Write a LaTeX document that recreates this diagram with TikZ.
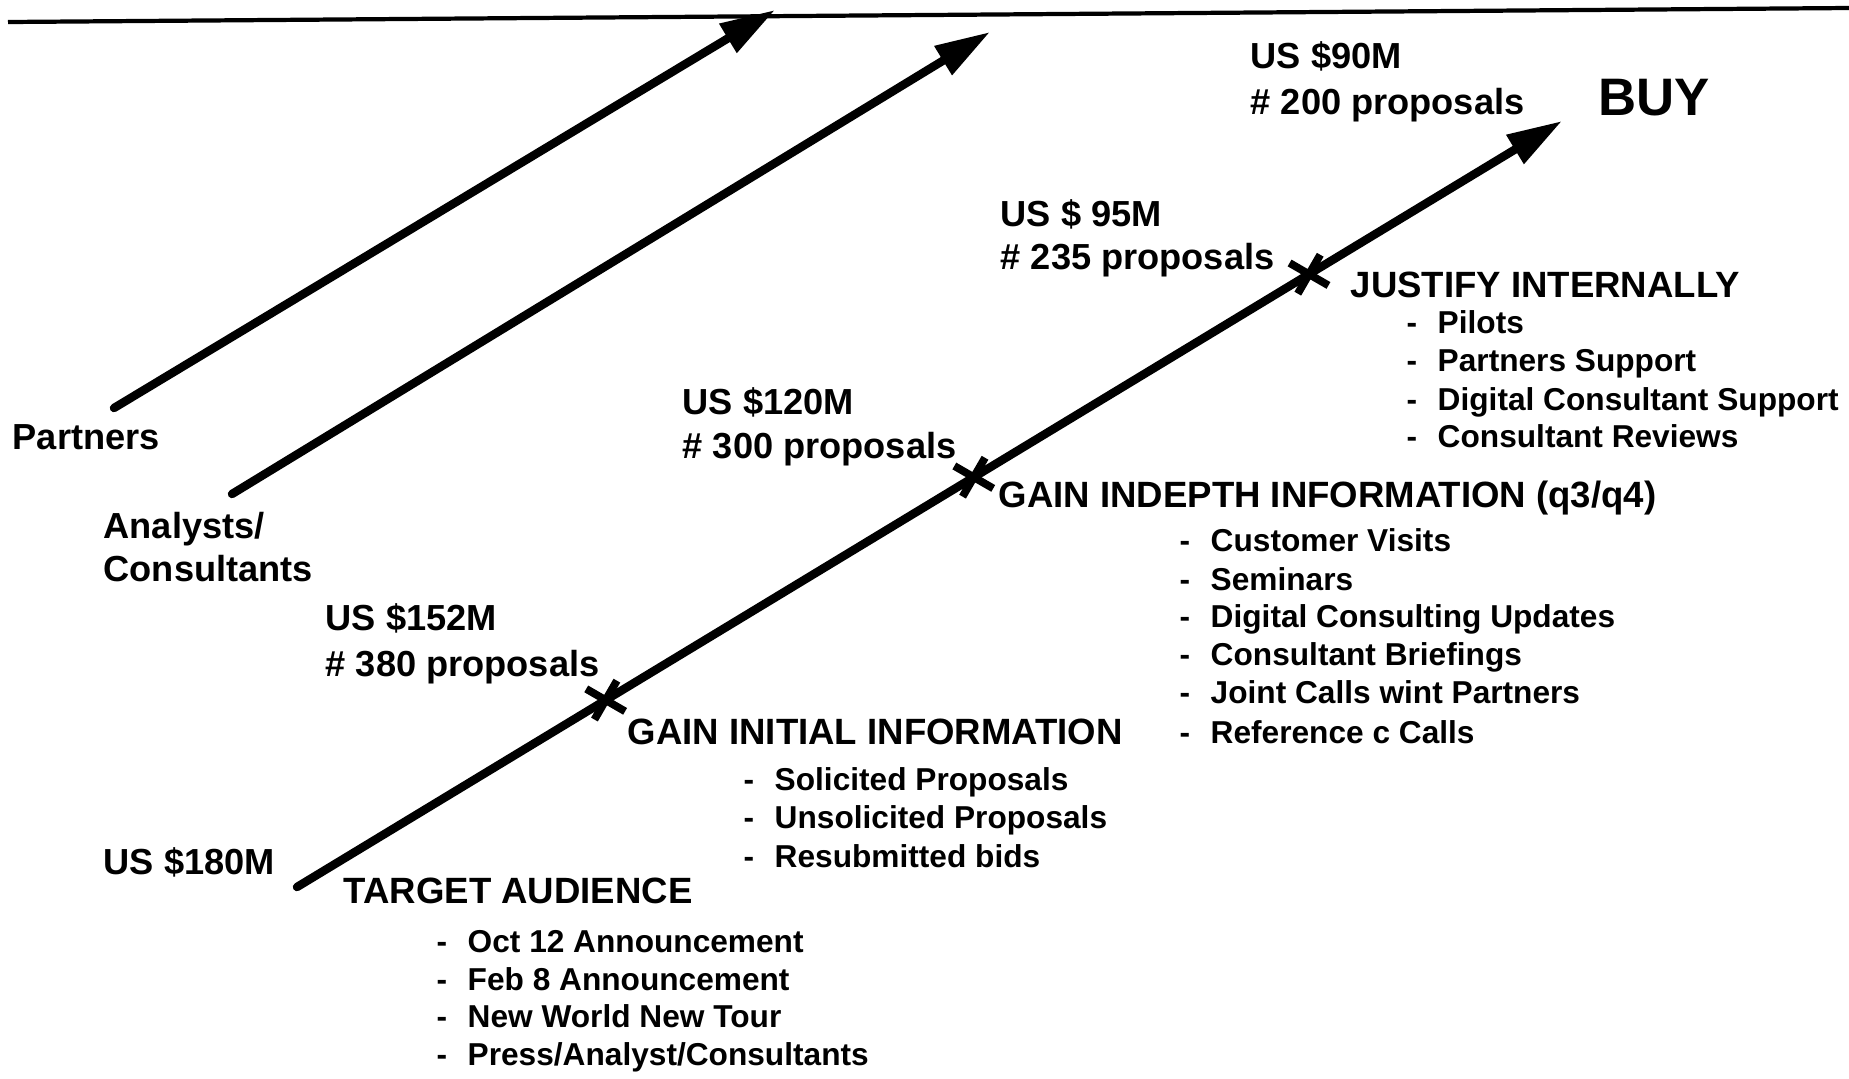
\documentclass[tikz,border=0pt]{standalone}
\usepackage{fontspec}
\setmainfont{Liberation Sans}
\usetikzlibrary{arrows.meta,calc,shapes.misc}

\tikzset{
  flecha/.style={line width=2.4pt,line cap=round,-{Triangle[length=0.55cm,width=0.32cm]}},
  hito/.style={cross out,draw,line width=2.2pt,minimum size=0.24cm,inner sep=0pt,rotate=15},
  cifra/.style={anchor=base west,inner sep=0pt,font=\fontsize{10.3}{12}\bfseries},
  etapa/.style={anchor=base west,inner sep=0pt,font=\fontsize{10.4}{12}\bfseries},
  punto/.style={anchor=base west,inner sep=0pt,font=\fontsize{9}{11}\bfseries},
}
\newcommand{\guion}{\makebox[0.31cm][l]{-}}

\begin{document}
\begin{tikzpicture}[x=0.01cm,y=-0.01cm]
    \useasboundingbox (0,0) rectangle (1849,1078);

    % ---- Linea superior ----
    \coordinate (izq) at (8,22);
    \coordinate (der) at (1849,8);
    \draw[line width=1.2pt] (izq) -- (der);

    % ---- Flechas ----
    \coordinate (socA) at (114,408);
    \coordinate (socB) at (775,10);
    \coordinate (anaA) at (232,494);
    \coordinate (anaB) at (990,32);
    \coordinate (inicio) at (297,887);
    \coordinate (compra) at (1562,121);
    \draw[flecha] (socA) -- (socB);
    \draw[flecha] (anaA) -- (anaB);
    \draw[flecha] (inicio) -- (compra);

    % ---- Hitos sobre la flecha principal ----
    \node[hito] (h1) at ($(inicio)!0.244!(compra)$) {};
    \node[hito] (h2) at ($(inicio)!0.535!(compra)$) {};
    \node[hito] (h3) at ($(inicio)!0.80!(compra)$) {};

    % ---- Etiquetas de las flechas ----
    \node[cifra] (socios) at (12,449) {Partners};
    \node[cifra] (analistas) at (103,538) {Analysts/};
    \node[cifra] (consultores) at (103,581) {Consultants};
    \node[font=\fontsize{15}{18}\bfseries,anchor=base west,inner sep=0pt] (compra txt) at (1598,115) {BUY};

    % ---- Cifras ----
    \node[cifra] (us180) at (103,874) {US \$180M};
    \node[cifra] (us152) at (325,630) {US \$152M};
    \node[cifra] (p380) at (325,676) {\# 380 proposals};
    \node[cifra] (us120) at (682,414) {US \$120M};
    \node[cifra] (p300) at (682,458) {\# 300 proposals};
    \node[cifra] (us95) at (1000,226) {US \$ 95M};
    \node[cifra] (p235) at (1000,269) {\# 235 proposals};
    \node[cifra] (us90) at (1250,68) {US \$90M};
    \node[cifra] (p200) at (1250,114) {\# 200 proposals};

    % ---- Target audience ----
    \node[etapa] (target) at (343,903) {TARGET AUDIENCE};
    \node[punto] (t1) at (436,952) {\guion Oct 12 Announcement};
    \node[punto] (t2) at (436,990) {\guion Feb 8 Announcement};
    \node[punto] (t3) at (436,1027) {\guion New World New Tour};
    \node[punto] (t4) at (436,1065) {\guion Press/Analyst/Consultants};

    % ---- Gain initial information ----
    \node[etapa] (inicial) at (627,744) {GAIN INITIAL INFORMATION};
    \node[punto] (i1) at (743,790) {\guion Solicited Proposals};
    \node[punto] (i2) at (743,828) {\guion Unsolicited Proposals};
    \node[punto] (i3) at (743,867) {\guion Resubmitted bids};

    % ---- Gain indepth information ----
    \node[etapa] (profunda) at (998,507) {GAIN INDEPTH INFORMATION (q3/q4)};
    \node[punto] (d1) at (1179,551) {\guion Customer Visits};
    \node[punto] (d2) at (1179,590) {\guion Seminars};
    \node[punto] (d3) at (1179,627) {\guion Digital Consulting Updates};
    \node[punto] (d4) at (1179,665) {\guion Consultant Briefings};
    \node[punto] (d5) at (1179,703) {\guion Joint Calls wint Partners};
    \node[punto] (d6) at (1179,743) {\guion Reference c Calls};

    % ---- Justify internally ----
    \node[etapa] (justifica) at (1350,297) {JUSTIFY INTERNALLY};
    \node[punto] (j1) at (1406,333) {\guion Pilots};
    \node[punto] (j2) at (1406,371) {\guion Partners Support};
    \node[punto] (j3) at (1406,410) {\guion Digital Consultant Support};
    \node[punto] (j4) at (1406,447) {\guion Consultant Reviews};
\end{tikzpicture}
\end{document}
